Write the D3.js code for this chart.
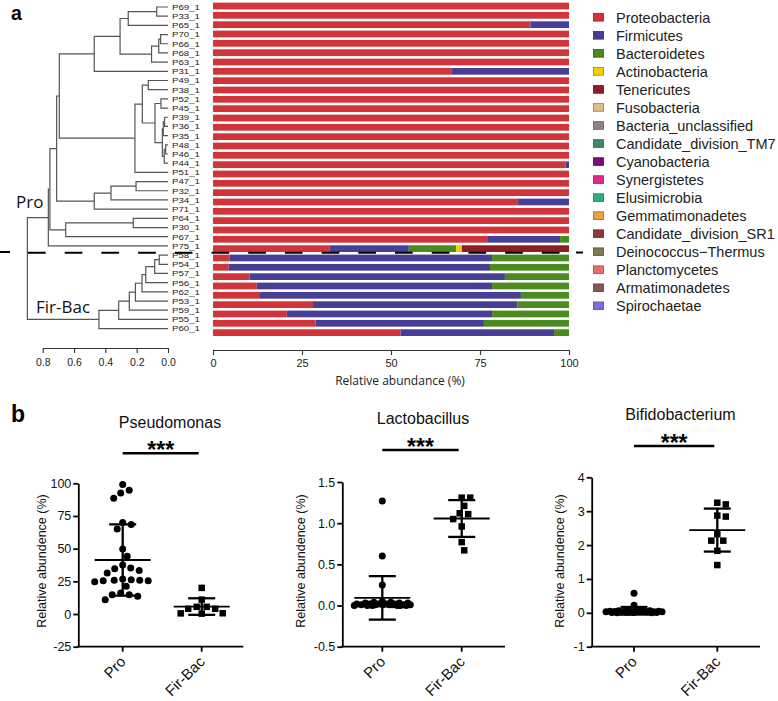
<!DOCTYPE html>
<html><head><meta charset="utf-8">
<script src="https://cdn.jsdelivr.net/npm/d3@7"></script>
<style>body{margin:0;background:#fff}svg{display:block}</style>
</head><body>
<svg id="chart" width="778" height="701"></svg>
<script>
// ---------- DATA: panel a ----------
const samples = ["P69_1","P33_1","P65_1","P70_1","P66_1","P68_1","P63_1","P31_1","P49_1","P38_1","P52_1","P45_1","P39_1","P36_1","P35_1","P48_1","P46_1","P44_1","P51_1","P47_1","P32_1","P34_1","P71_1","P64_1","P30_1","P67_1","P75_1","P58_1","P54_1","P57_1","P56_1","P62_1","P53_1","P59_1","P55_1","P60_1"];
const proteobacteria = [100,100,89.2,100,100,100,100,67.1,100,100,100,100,100,100,100,100,100,99.1,100,100,100,85.7,100,100,100,77.0,32.7,4.6,4.4,10.3,12.3,13.2,28.1,20.7,28.8,52.7];
const firmicutes     = [0,0,10.8,0,0,0,0,32.9,0,0,0,0,0,0,0,0,0,0.9,0,0,0,14.3,0,0,0,20.5,22.3,73.8,73.4,71.7,66.1,73.3,57.4,57.7,47.3,43.1];
const bacteroidetes  = [0,0,0,0,0,0,0,0,0,0,0,0,0,0,0,0,0,0,0,0,0,0,0,0,0,2.5,13.3,21.6,22.2,18.0,21.6,13.5,14.5,21.6,23.9,4.2];
const actinobacteria = [0,0,0,0,0,0,0,0,0,0,0,0,0,0,0,0,0,0,0,0,0,0,0,0,0,0,1.6,0,0,0,0,0,0,0,0,0];
const tenericutes    = [0,0,0,0,0,0,0,0,0,0,0,0,0,0,0,0,0,0,0,0,0,0,0,0,0,0,30.1,0,0,0,0,0,0,0,0,0];
const phyla = ["Proteobacteria","Firmicutes","Bacteroidetes","Actinobacteria","Tenericutes","Fusobacteria","Bacteria_unclassified","Candidate_division_TM7","Cyanobacteria","Synergistetes","Elusimicrobia","Gemmatimonadetes","Candidate_division_SR1","Deinococcus\u2212Thermus","Planctomycetes","Armatimonadetes","Spirochaetae"];
const phylumColors = ["#D1353B","#473F96","#4A8A1E","#F0D000","#8B1E24","#E0BC8A","#8E8580","#3B8A6A","#7E0A7E","#E5288C","#2DAE82","#E8A347","#8E3A36","#7E7B4E","#EE6B6B","#8A5555","#7A6FE0"];
const abundanceTicks = [0,25,50,75,100];
const heightTicks = [0.8,0.6,0.4,0.2,0.0];
// hierarchical clustering merges: [left, right, height]; "#k" = k-th merge
const dendroMerges = [
 ["P69_1","P33_1",0.072],["#0","P65_1",0.254],["P70_1","P66_1",0.047],["#2","P68_1",0.059],["#3","P63_1",0.105],
 ["#1","#4",0.306],["#5","P31_1",0.471],["P49_1","P38_1",0.126],["P52_1","P45_1",0.045],["P39_1","P36_1",0.022],
 ["#9","P35_1",0.030],["P48_1","P46_1",0.015],["#11","P44_1",0.024],["#10","#12",0.036],["#8","#13",0.083],
 ["#7","#14",0.164],["#15","P51_1",0.211],["#6","#16",0.694],["P47_1","P32_1",0.204],["#18","P34_1",0.364],
 ["#19","P71_1",0.471],["#17","#20",0.711],["P64_1","P30_1",0.222],["#22","P67_1",0.653],["#21","#23",0.754],
 ["#24","P75_1",0.764],["P58_1","P54_1",0.056],["#26","P57_1",0.085],["#27","P56_1",0.142],["#28","P62_1",0.166],
 ["#29","P53_1",0.208],["#30","P59_1",0.247],["#31","P55_1",0.315],["#32","P60_1",0.441],["#25","#33",0.898]
];
// ---------- DATA: panel b ----------
const groups = ["Pro","Fir-Bac"];
const pseudomonasPro = [99,94.6,92.6,88.5,70,68.4,65,49.7,44.1,37.5,34.7,31.4,33.2,35.2,26.3,25.8,25.5,24.7,25.5,25.8,26.8,21.2,14.8,14.8,11,13.5,16];
const pseudomonasFirBac = [20,11,5.5,4,4,5.5,0.5,0.3,0.6];
const lactobacillusPro = [1.27,0.6,0.25,0.05,0.04,0.04,0.03,0.03,0.03,0.02,0.02,0.02,0.02,0.02,0.01,0.01,0.01,0.01,0.01,0.01,0.01,0,0,0,0,0,0];
const lactobacillusFirBac = [1.31,1.31,1.21,1.11,1.12,1.05,0.96,0.77,0.67];
const bifidobacteriumPro = [0.58,0.22,0.08,0.07,0.06,0.06,0.05,0.05,0.05,0.04,0.04,0.04,0.04,0.03,0.03,0.03,0.03,0.03,0.02,0.02,0.02,0.02,0.01,0.01,0.01,0,0];
const bifidobacteriumFirBac = [3.2,3.25,2.87,2.84,2.32,2.13,2.13,1.83,1.41];
const pseudomonasTicks = [-25,0,25,50,75,100];
const lactobacillusTicks = [-0.5,0,0.5,1.0,1.5];
const bifidobacteriumTicks = [-1,0,1,2,3,4];

// ---------- DRAW ----------
const svg = d3.select("#chart");
const SANS = "'Liberation Sans', Arial, sans-serif";
const HUM = "'Open Sans', 'Noto Sans', sans-serif";

// panel labels
svg.append("text").attr("x",11).attr("y",20).attr("font-family",SANS).attr("font-weight","bold").attr("font-size",19.5).text("a");
svg.append("text").attr("x",11).attr("y",421.5).attr("font-family",SANS).attr("font-weight","bold").attr("font-size",23).text("b");

// stacked bars
const keys = ["Proteobacteria","Firmicutes","Bacteroidetes","Actinobacteria","Tenericutes"];
const seriesArr = [proteobacteria, firmicutes, bacteroidetes, actinobacteria, tenericutes];
const table = samples.map((s,i)=>{const r={sample:s}; keys.forEach((k,j)=>r[k]=seriesArr[j][i]); return r;});
const stacked = d3.stack().keys(keys)(table);
const color = d3.scaleOrdinal().domain(phyla).range(phylumColors);
const xBar = d3.scaleLinear().domain([0,100]).range([213,569]);
const yBar = d3.scaleBand().domain(samples).range([1.33,337.3]).paddingInner(0.28).paddingOuter(0.14);
const gBars = svg.append("g");
stacked.forEach(layer=>{
  gBars.selectAll(null).data(layer.filter(d=>d[1]-d[0]>0)).enter().append("rect")
    .attr("x",d=>xBar(d[0])).attr("width",d=>xBar(d[1])-xBar(d[0]))
    .attr("y",d=>yBar(d.data.sample)).attr("height",yBar.bandwidth())
    .attr("fill",color(layer.key));
});
const axBar = svg.append("g").attr("transform","translate(0,350)")
  .call(d3.axisBottom(xBar).tickValues(abundanceTicks).tickSize(5).tickSizeOuter(0).tickPadding(4));
axBar.selectAll("path,line").attr("stroke","#333").attr("stroke-width",1.1);
axBar.selectAll("text").attr("font-family",SANS).attr("font-size",11).attr("fill","#222");
svg.append("text").attr("x",400).attr("y",385).attr("text-anchor","middle").attr("font-family",HUM).attr("font-size",12).attr("fill","#222").text("Relative abundance (%)");

// sample labels
const yLab = d3.scalePoint().domain(samples).range([7,328.6]);
svg.append("g").selectAll("text").data(samples).enter().append("text")
  .attr("x",172).attr("y",d=>yLab(d)).attr("dy","0.36em")
  .attr("font-family",SANS).attr("font-size",8).attr("textLength",28).attr("lengthAdjust","spacingAndGlyphs")
  .attr("fill","#222").text(d=>d);

// dendrogram
const hx = d3.scaleLinear().domain([0.8,0]).range([42.7,168]);
const nodes = [];
function pos(ref){ if (ref[0]==="#") return nodes[+ref.slice(1)]; return {x:hx(0), y:yLab(ref)}; }
const gD = svg.append("g").attr("fill","none").attr("stroke","#555").attr("stroke-width",1.2);
dendroMerges.forEach(m=>{
  const a=pos(m[0]), b=pos(m[1]); const x=hx(m[2]); const y=(a.y+b.y)/2;
  nodes.push({x,y});
  gD.append("path").attr("d",`M${a.x},${a.y}H${x}V${b.y}H${b.x}`);
});
const axD = svg.append("g").attr("transform","translate(0,348)")
  .call(d3.axisBottom(hx).tickValues(heightTicks).tickFormat(d3.format(".1f")).tickSize(5).tickSizeOuter(0).tickPadding(6));
axD.selectAll("path,line").attr("stroke","#333").attr("stroke-width",1.1);
axD.selectAll("text").attr("font-family",SANS).attr("font-size",10.5).attr("fill","#222");
svg.append("text").attr("x",16).attr("y",208).attr("font-family",HUM).attr("font-size",17).attr("fill","#111").text("Pro");
svg.append("text").attr("x",36).attr("y",313).attr("font-family",HUM).attr("font-size",17).attr("fill","#111").text("Fir-Bac");

// dashed separator
const gDash = svg.append("g").attr("stroke","#000").attr("stroke-width",2);
gDash.append("line").attr("x1",0).attr("x2",10).attr("y1",252).attr("y2",252);
gDash.append("line").attr("x1",28).attr("x2",560).attr("y1",252.7).attr("y2",252.7).attr("stroke-dasharray","17.7,19");
gDash.append("line").attr("x1",576).attr("x2",583).attr("y1",252.5).attr("y2",252.5);

// legend
const gL = svg.append("g");
phyla.forEach((p,i)=>{
  const cy = 17.3 + i*18.03;
  gL.append("rect").attr("x",593.5).attr("y",cy-3.8).attr("width",10).attr("height",7.6)
    .attr("fill",color(p)).attr("stroke",d3.color(color(p)).darker(1.2)).attr("stroke-width",0.8);
  gL.append("text").attr("x",616).attr("y",cy).attr("dy","0.36em").attr("font-family",SANS).attr("font-size",14.5).attr("fill","#222").text(p);
});

// ---------- panel b ----------
function swarm(ys, cx, minD, maxHalf){
  const order = d3.range(ys.length).sort((a,b)=>ys[a]-ys[b]);
  const placed=[]; const xs=new Array(ys.length);
  const cands=[0]; for(let d=0.5; d<=maxHalf; d+=0.5){cands.push(d,-d);}
  for(const i of order){
    const y=ys[i]; let best=0, bestScore=-1;
    for(const dx of cands){
      let md=Infinity;
      for(const p of placed){const dd=Math.hypot(p.x-dx,p.y-y); if(dd<md) md=dd;}
      if(md>=minD){best=dx; break;}
      if(md>bestScore){bestScore=md; best=dx;}
    }
    placed.push({x:best,y}); xs[i]=cx+best;
  }
  return xs;
}
const panels = [
 {title:"Pseudomonas", data:[pseudomonasPro,pseudomonasFirBac], domain:[-25,100], ticks:pseudomonasTicks, fmt:d=>String(d),
  x0:78.3, x1:243.3, xPro:122.7, xFB:201.7, yTop:483.3, labelX:41.7, titleX:170, titleY:428, sigY:453.3},
 {title:"Lactobacillus", data:[lactobacillusPro,lactobacillusFirBac], domain:[-0.5,1.5], ticks:lactobacillusTicks, fmt:d=>d.toFixed(1),
  x0:342.3, x1:505, xPro:382.3, xFB:461.7, yTop:482, labelX:300.7, titleX:423, titleY:424, sigY:450},
 {title:"Bifidobacterium", data:[bifidobacteriumPro,bifidobacteriumFirBac], domain:[-1,4], ticks:bifidobacteriumTicks, fmt:d=>String(d),
  x0:591.7, x1:760, xPro:634, xFB:717.3, yTop:477.3, labelX:560, titleX:680.5, titleY:419.5, sigY:446}
];
const yBottom = 646.7;
panels.forEach(P=>{
  const g = svg.append("g");
  const y = d3.scaleLinear().domain(P.domain).range([yBottom,P.yTop]);
  const x = d3.scalePoint().domain(groups).range([P.xPro,P.xFB]);
  g.append("text").attr("x",P.titleX).attr("y",P.titleY).attr("text-anchor","middle").attr("font-family",SANS).attr("font-size",16).attr("fill","#111").text(P.title);
  g.append("line").attr("x1",x("Pro")).attr("x2",x("Fir-Bac")-3).attr("y1",P.sigY).attr("y2",P.sigY).attr("stroke","#000").attr("stroke-width",2.5);
  g.append("text").attr("x",(x("Pro")+x("Fir-Bac")-3)/2).attr("y",P.sigY+4.6).attr("text-anchor","middle").attr("font-family",SANS).attr("font-weight","bold").attr("font-size",23).text("***");
  const ay = g.append("g").attr("transform",`translate(${P.x0},0)`)
    .call(d3.axisLeft(y).tickValues(P.ticks).tickFormat(P.fmt).tickSize(5).tickSizeOuter(0).tickPadding(2));
  ay.selectAll("path,line").attr("stroke","#000").attr("stroke-width",1.8);
  ay.selectAll("text").attr("font-family",SANS).attr("font-size",12.5).attr("fill","#111");
  g.append("line").attr("x1",P.x0-0.9).attr("x2",P.x1).attr("y1",yBottom).attr("y2",yBottom).attr("stroke","#000").attr("stroke-width",1.8);
  groups.forEach(c=>{
    g.append("line").attr("x1",x(c)).attr("x2",x(c)).attr("y1",yBottom).attr("y2",yBottom+5).attr("stroke","#000").attr("stroke-width",1.8);
    g.append("text").attr("transform",`translate(${x(c)+4},${yBottom+16}) rotate(-45)`).attr("text-anchor","end")
      .attr("font-family",SANS).attr("font-size",15).attr("fill","#111").text(c);
  });
  g.append("text").attr("transform",`translate(${P.labelX},561) rotate(-90)`).attr("text-anchor","middle").attr("dy","0.35em")
    .attr("font-family",SANS).attr("font-size",12.5).attr("fill","#111").text("Relative abundence (%)");
  P.data.forEach((vals,gi)=>{
    const cx = x(groups[gi]);
    const ys = vals.map(v=>y(v));
    const xs = swarm(ys,cx,8.5,28);
    if(gi===0){
      g.append("g").selectAll("circle").data(vals).enter().append("circle")
        .attr("cx",(d,i)=>xs[i]).attr("cy",(d,i)=>ys[i]).attr("r",3.5).attr("fill","#000");
    } else {
      g.append("g").selectAll("rect").data(vals).enter().append("rect")
        .attr("x",(d,i)=>xs[i]-3.25).attr("y",(d,i)=>ys[i]-3.25).attr("width",6.5).attr("height",6.5).attr("fill","#000");
    }
    const m = d3.mean(vals), sd = d3.deviation(vals);
    g.append("line").attr("x1",cx-28).attr("x2",cx+28).attr("y1",y(m)).attr("y2",y(m)).attr("stroke","#000").attr("stroke-width",1.8);
    g.append("line").attr("x1",cx).attr("x2",cx).attr("y1",y(m-sd)).attr("y2",y(m+sd)).attr("stroke","#000").attr("stroke-width",2.3);
    [m-sd,m+sd].forEach(v=>g.append("line").attr("x1",cx-13.5).attr("x2",cx+13.5).attr("y1",y(v)).attr("y2",y(v)).attr("stroke","#000").attr("stroke-width",2.3));
  });
});
</script>
</body></html>
